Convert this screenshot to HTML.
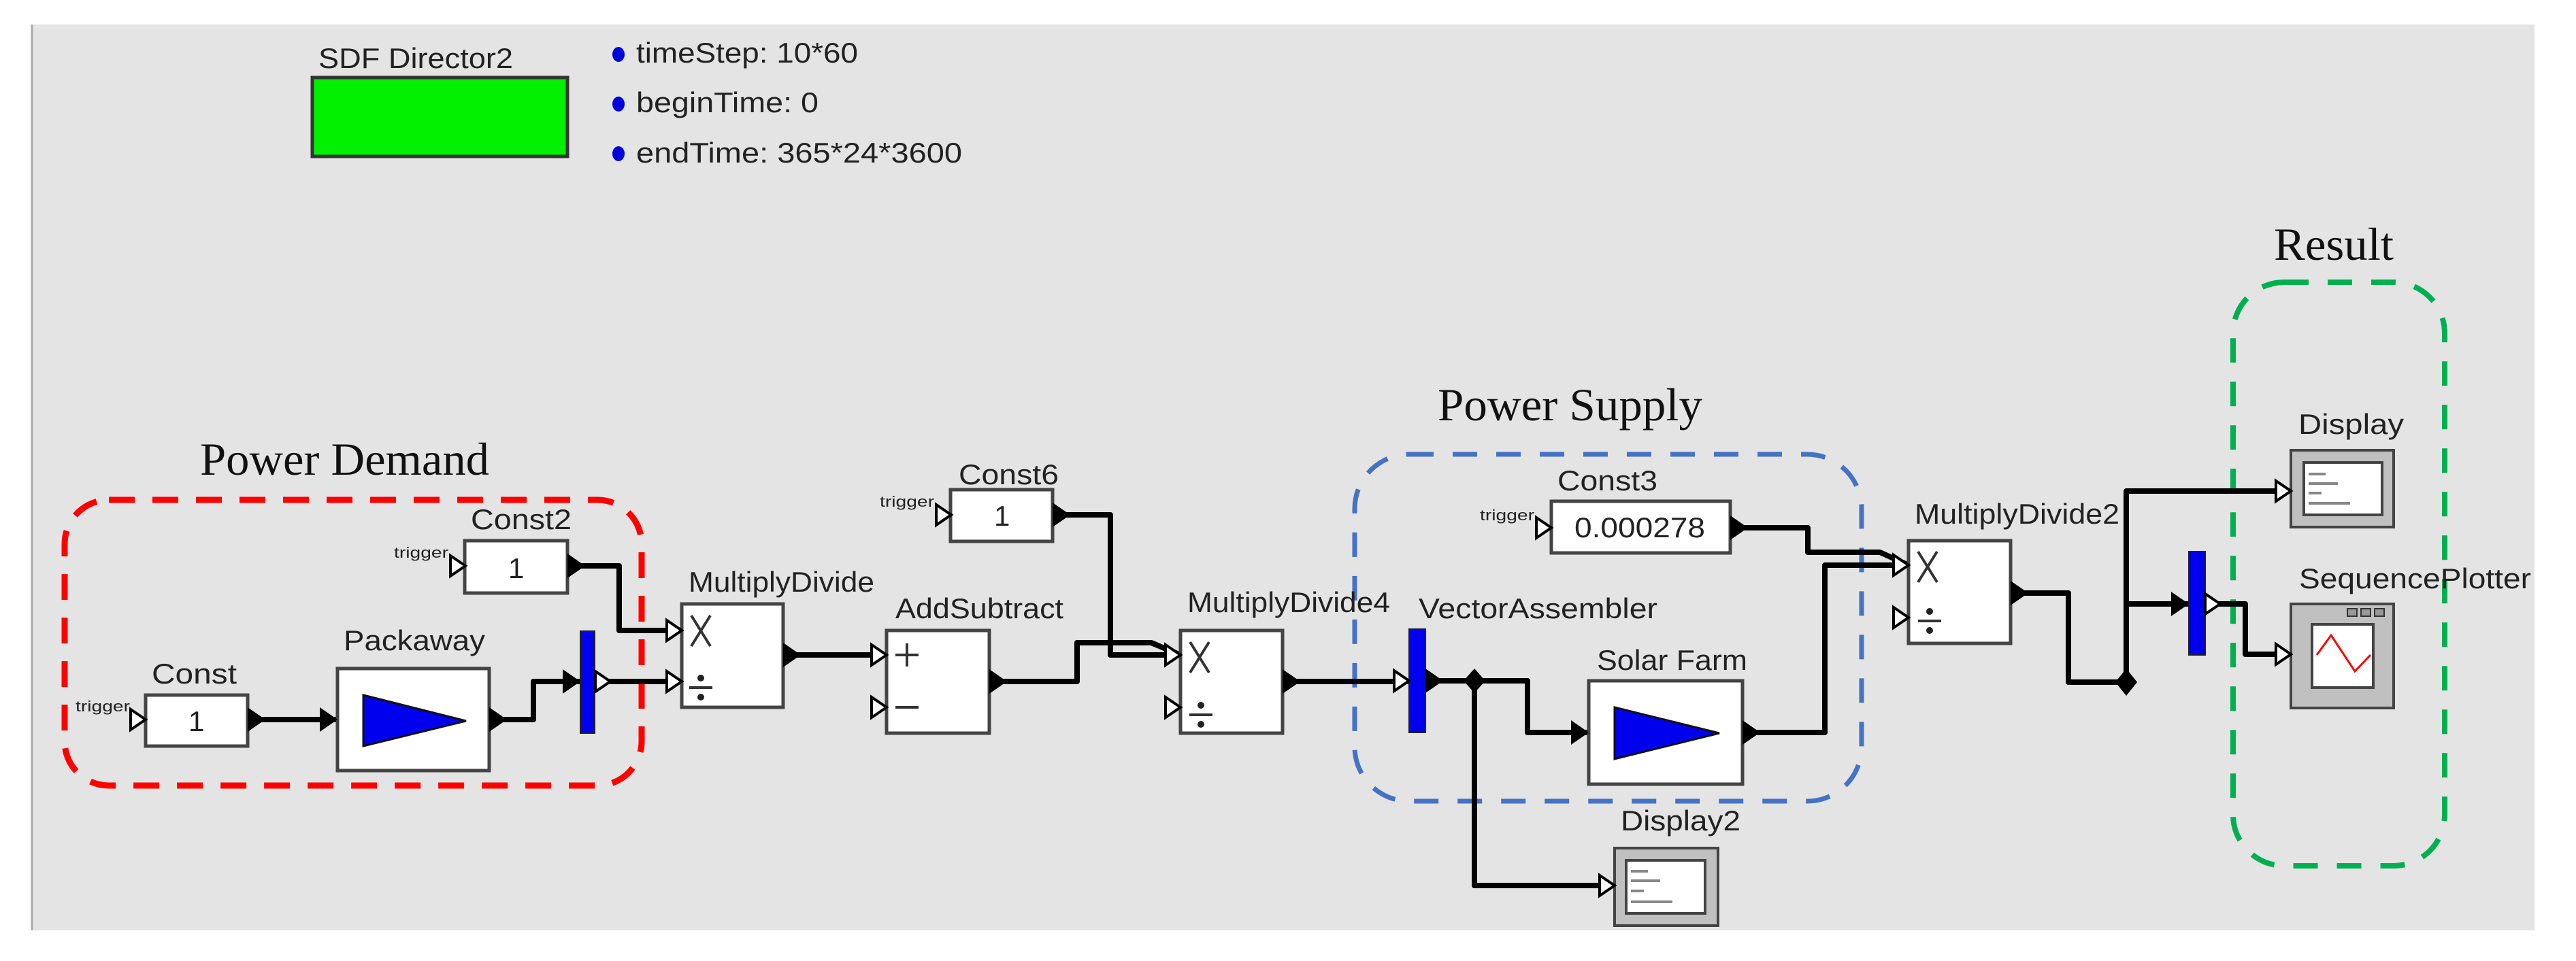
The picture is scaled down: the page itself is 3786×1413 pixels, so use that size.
<!DOCTYPE html>
<html><head><meta charset="utf-8"><style>html,body{margin:0;padding:0;background:#fff}svg{display:block}</style></head>
<body>
<svg width="3786" height="1413" viewBox="0 0 3786 1413" xmlns="http://www.w3.org/2000/svg" font-family="Liberation Sans, sans-serif">
<defs>
<g id="out"><polygon points="0,-18 26,0 0,18" fill="#000"/></g>
<g id="in"><polygon points="0,-15 22,0 0,15" fill="#fff" stroke="#000" stroke-width="4"/></g>
</defs>
<rect x="0" y="0" width="3786" height="1413" fill="#fff"/>
<rect x="47" y="36" width="3678" height="1332" fill="#e4e4e4"/>
<line x1="47" y1="36" x2="47" y2="1368" stroke="#aaa" stroke-width="3"/>

<text x="468" y="100" font-size="42" fill="#222" textLength="286" lengthAdjust="spacingAndGlyphs">SDF Director2</text>
<rect x="459" y="114" width="375" height="116" fill="#00f000" stroke="#333" stroke-width="5"/>
<g fill="#0000dd"><ellipse cx="909" cy="80" rx="9" ry="11"/><ellipse cx="909" cy="153" rx="9" ry="11"/><ellipse cx="909" cy="226" rx="9" ry="11"/></g>
<g font-size="42" fill="#222">
<text x="935" y="92" textLength="326" lengthAdjust="spacingAndGlyphs">timeStep: 10*60</text>
<text x="935" y="165" textLength="268" lengthAdjust="spacingAndGlyphs">beginTime: 0</text>
<text x="935" y="239" textLength="479" lengthAdjust="spacingAndGlyphs">endTime: 365*24*3600</text>
</g>

<g font-family="Liberation Serif, serif" font-size="68" fill="#111">
<text x="294" y="698" textLength="425" lengthAdjust="spacingAndGlyphs">Power Demand</text>
<text x="2113" y="618" textLength="389" lengthAdjust="spacingAndGlyphs">Power Supply</text>
<text x="3342" y="382" textLength="176" lengthAdjust="spacingAndGlyphs">Result</text>
</g>

<rect x="95" y="735" width="848" height="420" rx="65" fill="none" stroke="#ff0000" stroke-width="9" stroke-dasharray="38,26"/>
<rect x="1991" y="668" width="745" height="510" rx="80" fill="none" stroke="#4472c4" stroke-width="7" stroke-dasharray="36,28"/>
<rect x="3282" y="415" width="311" height="858" rx="75" fill="none" stroke="#00b050" stroke-width="8" stroke-dasharray="36,28"/>

<g fill="none" stroke="#000" stroke-width="8" stroke-linejoin="round">
<polyline points="364,1058 496,1058"/>
<polyline points="719,1058 784,1058 784,1002 853,1002"/>
<polyline points="874,1002 1002,1002"/>
<polyline points="834,832 910,832 910,927 1002,927"/>
<polyline points="1151,963 1303,963"/>
<polyline points="1454,1002 1583,1002 1583,945 1692,945 1735,963"/>
<polyline points="1547,757 1632,757 1632,963 1735,963"/>
<polyline points="1885,1002 2072,1002"/>
<polyline points="2095,1001 2245,1001 2245,1077 2335,1077"/>
<polyline points="2167,1001 2167,1302 2373,1302"/>
<polyline points="2561,1077 2682,1077 2682,831 2805,831"/>
<polyline points="2543,776 2657,776 2657,812 2763,812 2805,831"/>
<polyline points="2955,872 3040,872 3040,1003 3125,1003"/>
<polyline points="3125,1003 3125,722 3367,722"/>
<polyline points="3125,888 3217,888"/>
<polyline points="3241,888 3300,888 3300,962 3367,962"/>
</g>

<g fill="#fff" stroke="#444" stroke-width="5">
<rect x="214" y="1022" width="150" height="75"/>
<rect x="683" y="795" width="151" height="77"/>
<rect x="496" y="983" width="223" height="150"/>
<rect x="1002" y="888" width="149" height="152"/>
<rect x="1303" y="927" width="151" height="151"/>
<rect x="1397" y="720" width="150" height="76"/>
<rect x="1735" y="927" width="150" height="151"/>
<rect x="2280" y="737" width="263" height="76"/>
<rect x="2335" y="1001" width="226" height="152"/>
<rect x="2805" y="795" width="150" height="151"/>
</g>
<polygon points="534,1022 685,1060 534,1097" fill="#0000ee" stroke="#111" stroke-width="3"/>
<polygon points="2373,1040 2527,1078 2373,1116" fill="#0000ee" stroke="#111" stroke-width="3"/>
<g fill="#0000ee" stroke="#222" stroke-width="2">
<rect x="853" y="928" width="21" height="150"/>
<rect x="2071" y="925" width="24" height="152"/>
<rect x="3217" y="811" width="24" height="152"/>
</g>

<g>
<rect x="2373" y="1247" width="152" height="114" fill="#c0c0c0" stroke="#444" stroke-width="4"/>
<rect x="2390" y="1265" width="116" height="78" fill="#fff" stroke="#444" stroke-width="4"/>
<rect x="3367" y="662" width="151" height="113" fill="#c0c0c0" stroke="#444" stroke-width="4"/>
<rect x="3386" y="680" width="115" height="77" fill="#fff" stroke="#444" stroke-width="4"/>
<g stroke="#888" stroke-width="4">
<line x1="2397" y1="1281" x2="2422" y2="1281"/><line x1="2397" y1="1295" x2="2440" y2="1295"/><line x1="2397" y1="1310" x2="2416" y2="1310"/><line x1="2397" y1="1326" x2="2458" y2="1326"/>
<line x1="3393" y1="697" x2="3418" y2="697"/><line x1="3393" y1="711" x2="3436" y2="711"/><line x1="3393" y1="725" x2="3412" y2="725"/><line x1="3393" y1="740" x2="3454" y2="740"/>
</g>
<rect x="3367" y="888" width="151" height="153" fill="#c0c0c0" stroke="#444" stroke-width="4"/>
<rect x="3398" y="918" width="90" height="93" fill="#fff" stroke="#444" stroke-width="4"/>
<g fill="#999" stroke="#333" stroke-width="2"><rect x="3450" y="895" width="14" height="11"/><rect x="3470" y="895" width="14" height="11"/><rect x="3490" y="895" width="14" height="11"/></g>
<polyline points="3405,963 3426,934 3461,987 3484,963" fill="none" stroke="#f00" stroke-width="3"/>
</g>

<polygon points="2167,983 2183,1001 2167,1019 2151,1001" fill="#000"/>
<polygon points="3125,983 3141,1003 3125,1023 3109,1003" fill="#000"/>

<use href="#out" x="364" y="1058"/>
<use href="#out" x="470" y="1058"/>
<use href="#out" x="834" y="832"/>
<use href="#out" x="719" y="1058"/>
<use href="#out" x="827" y="1002"/>
<use href="#out" x="1151" y="963"/>
<use href="#out" x="1454" y="1002"/>
<use href="#out" x="1547" y="757"/>
<use href="#out" x="1885" y="1002"/>
<use href="#out" x="2095" y="1001"/>
<use href="#out" x="2309" y="1077"/>
<use href="#out" x="2543" y="776"/>
<use href="#out" x="2561" y="1077"/>
<use href="#out" x="2955" y="872"/>
<use href="#out" x="3191" y="888"/>
<use href="#in" x="192" y="1058"/>
<use href="#in" x="662" y="832"/>
<use href="#in" x="875" y="1002"/>
<use href="#in" x="980" y="927"/>
<use href="#in" x="980" y="1002"/>
<use href="#in" x="1281" y="963"/>
<use href="#in" x="1281" y="1040"/>
<use href="#in" x="1376" y="757"/>
<use href="#in" x="1713" y="963"/>
<use href="#in" x="1713" y="1040"/>
<use href="#in" x="2049" y="1001"/>
<use href="#in" x="2258" y="776"/>
<use href="#in" x="2351" y="1302"/>
<use href="#in" x="2783" y="831"/>
<use href="#in" x="2783" y="908"/>
<use href="#in" x="3241" y="888"/>
<use href="#in" x="3345" y="722"/>
<use href="#in" x="3345" y="962"/>

<g stroke="#333" stroke-width="4" fill="none">
<path d="M1016,905 L1044,950 M1044,905 L1016,950"/>
<path d="M1749,944 L1777,989 M1777,944 L1749,989"/>
<path d="M2819,811 L2847,856 M2847,811 L2819,856"/>
<path d="M1013,1011 L1047,1011 M1316,963 L1350,963 M1333,946 L1333,980 M1316,1040 L1350,1040"/>
<path d="M1748,1051 L1782,1051 M2819,913 L2853,913"/>
</g>
<g fill="#222">
<circle cx="1030" cy="997" r="5"/><circle cx="1030" cy="1025" r="5"/>
<circle cx="1765" cy="1037" r="5"/><circle cx="1765" cy="1065" r="5"/>
<circle cx="2836" cy="899" r="5"/><circle cx="2836" cy="927" r="5"/>
</g>

<g font-size="42" fill="#222">
<text x="223" y="1005" textLength="125" lengthAdjust="spacingAndGlyphs">Const</text>
<text x="692" y="778" textLength="148" lengthAdjust="spacingAndGlyphs">Const2</text>
<text x="505" y="956" textLength="208" lengthAdjust="spacingAndGlyphs">Packaway</text>
<text x="1012" y="870" textLength="273" lengthAdjust="spacingAndGlyphs">MultiplyDivide</text>
<text x="1316" y="909" textLength="247" lengthAdjust="spacingAndGlyphs">AddSubtract</text>
<text x="1409" y="712" textLength="147" lengthAdjust="spacingAndGlyphs">Const6</text>
<text x="1745" y="900" textLength="298" lengthAdjust="spacingAndGlyphs">MultiplyDivide4</text>
<text x="2085" y="909" textLength="351" lengthAdjust="spacingAndGlyphs">VectorAssembler</text>
<text x="2347" y="985" textLength="221" lengthAdjust="spacingAndGlyphs">Solar Farm</text>
<text x="2382" y="1221" textLength="176" lengthAdjust="spacingAndGlyphs">Display2</text>
<text x="2289" y="721" textLength="147" lengthAdjust="spacingAndGlyphs">Const3</text>
<text x="2814" y="770" textLength="301" lengthAdjust="spacingAndGlyphs">MultiplyDivide2</text>
<text x="3378" y="638" textLength="155" lengthAdjust="spacingAndGlyphs">Display</text>
<text x="3379" y="865" textLength="341" lengthAdjust="spacingAndGlyphs">SequencePlotter</text>
<text x="277" y="1075">1</text>
<text x="747" y="850">1</text>
<text x="1461" y="773">1</text>
<text x="2314" y="790" textLength="192" lengthAdjust="spacingAndGlyphs">0.000278</text>
</g>
<g font-size="22" fill="#222">
<text x="111" y="1046" textLength="80" lengthAdjust="spacingAndGlyphs">trigger</text>
<text x="579" y="820" textLength="80" lengthAdjust="spacingAndGlyphs">trigger</text>
<text x="1293" y="745" textLength="80" lengthAdjust="spacingAndGlyphs">trigger</text>
<text x="2175" y="765" textLength="80" lengthAdjust="spacingAndGlyphs">trigger</text>
</g>
</svg>
</body></html>
